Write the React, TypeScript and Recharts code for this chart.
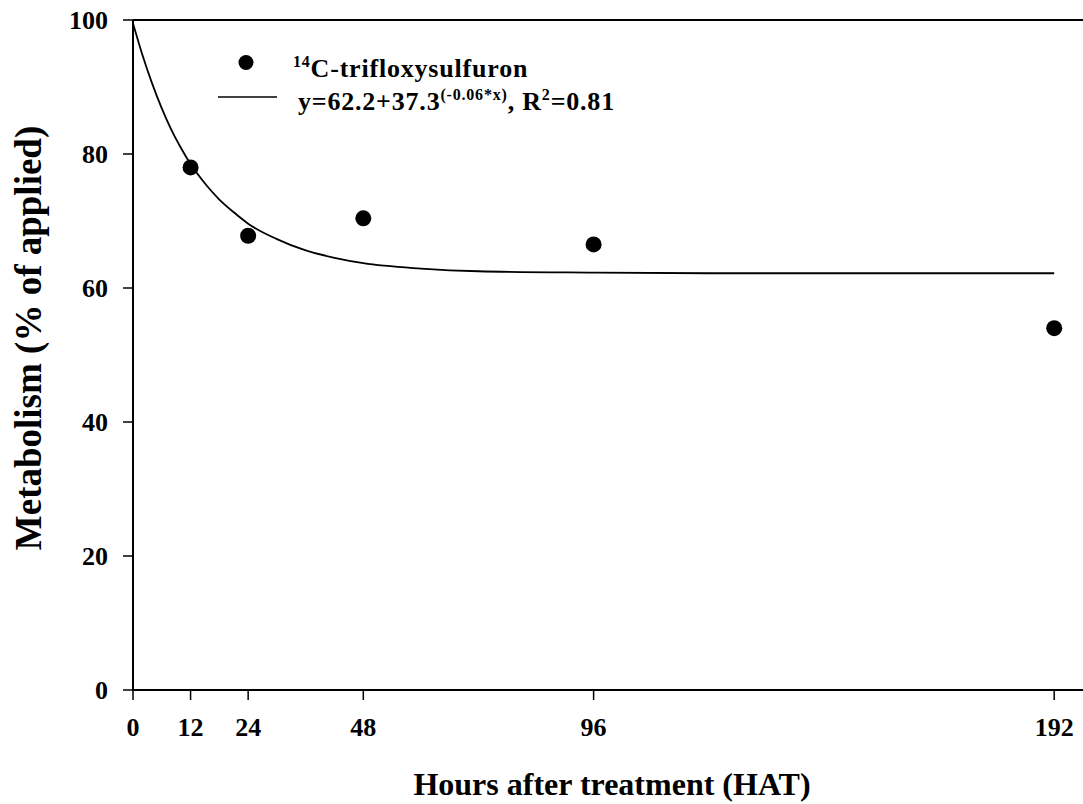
import {
  ComposedChart,
  Line,
  Scatter,
  XAxis,
  YAxis,
  ReferenceLine,
  Label,
} from "recharts";

const hours = [12, 24, 48, 96, 192];
const metabolism = [78.0, 67.8, 70.4, 66.5, 54.0];

// fitted curve
const fitHours = [0, 2, 4, 6, 8, 10, 12, 15, 18, 21, 24, 30, 36, 42, 48, 60, 72, 96, 120, 144, 168, 192];
const fitValues = [99.5, 94.7, 90.5, 86.8, 83.6, 80.9, 78.5, 75.6, 73.2, 71.3, 69.6, 67.3, 65.6, 64.5, 63.7, 62.9, 62.5, 62.3, 62.2, 62.2, 62.2, 62.2];

const xTicks = [0, 12, 24, 48, 96, 192];
const yTicks = [0, 20, 40, 60, 80, 100];

const points = hours.map((x, i) => ({ x, y: metabolism[i] }));
const curve = fitHours.map((x, i) => ({ x, y: fitValues[i] }));

const font = "'Liberation Serif', 'Times New Roman', serif";
const tickStyle = { fontFamily: font, fontWeight: 700, fontSize: 26, fill: "#000" };

const Dot = (props: any) => <circle cx={props.cx} cy={props.cy} r={8} fill="#000" />;

export default function App() {
  return (
    <div style={{ position: "absolute", left: 0, top: 0, width: 1083, height: 804, background: "#fff" }}>
      <ComposedChart width={1083} height={804} margin={{ top: 20, right: 0, bottom: 0, left: 0 }}>
        <XAxis
          type="number"
          dataKey="x"
          domain={[0, 198]}
          ticks={xTicks}
          allowDataOverflow
          axisLine={{ stroke: "#000", strokeWidth: 2 }}
          tickLine={{ stroke: "#000", strokeWidth: 1.5 }}
          tickSize={10}
          tickMargin={18}
          tick={tickStyle}
          height={114}
        >
          <Label
            value="Hours after treatment (HAT)"
            position="insideBottom"
            offset={9}
            dx={4}
            style={{ fontFamily: font, fontWeight: 700, fontSize: 32, fill: "#000" }}
          />
        </XAxis>
        <YAxis
          type="number"
          domain={[0, 100]}
          ticks={yTicks}
          width={133}
          axisLine={{ stroke: "#000", strokeWidth: 2 }}
          tickLine={{ stroke: "#000", strokeWidth: 1.5 }}
          tickSize={10}
          tickMargin={15}
          tick={tickStyle}
        >
          <Label
            value="Metabolism (% of applied)"
            angle={-90}
            position="insideLeft"
            offset={28}
            dy={-17}
            style={{ textAnchor: "middle", fontFamily: font, fontWeight: 700, fontSize: 37, fill: "#000" }}
          />
        </YAxis>
        <ReferenceLine y={100} stroke="#000" strokeWidth={2} />
        <Line
          data={curve}
          dataKey="y"
          type="monotone"
          stroke="#000"
          strokeWidth={1.8}
          dot={false}
          isAnimationActive={false}
        />
        <Scatter data={points} dataKey="y" shape={Dot} isAnimationActive={false} />
      </ComposedChart>
      <svg
        width={1083}
        height={804}
        style={{ position: "absolute", left: 0, top: 0, pointerEvents: "none" }}
      >
        <circle cx={246} cy={62.5} r={7.5} fill="#000" />
        <line x1={218} y1={97} x2={277} y2={97} stroke="#000" strokeWidth={1.5} />
        <text x={293} y={77} fontFamily={font} fontWeight={700} fontSize={26} letterSpacing={0.8} fill="#000">
          <tspan fontSize={16} dy={-10}>14</tspan>
          <tspan dy={10}>C-trifloxysulfuron</tspan>
        </text>
        <text x={298} y={110} fontFamily={font} fontWeight={700} fontSize={26} letterSpacing={0.8} fill="#000">
          <tspan>y=62.2+37.3</tspan>
          <tspan fontSize={16} dy={-10}>(-0.06*x)</tspan>
          <tspan dy={10}>, R</tspan>
          <tspan fontSize={16} dy={-10}>2</tspan>
          <tspan dy={10}>=0.81</tspan>
        </text>
      </svg>
    </div>
  );
}
